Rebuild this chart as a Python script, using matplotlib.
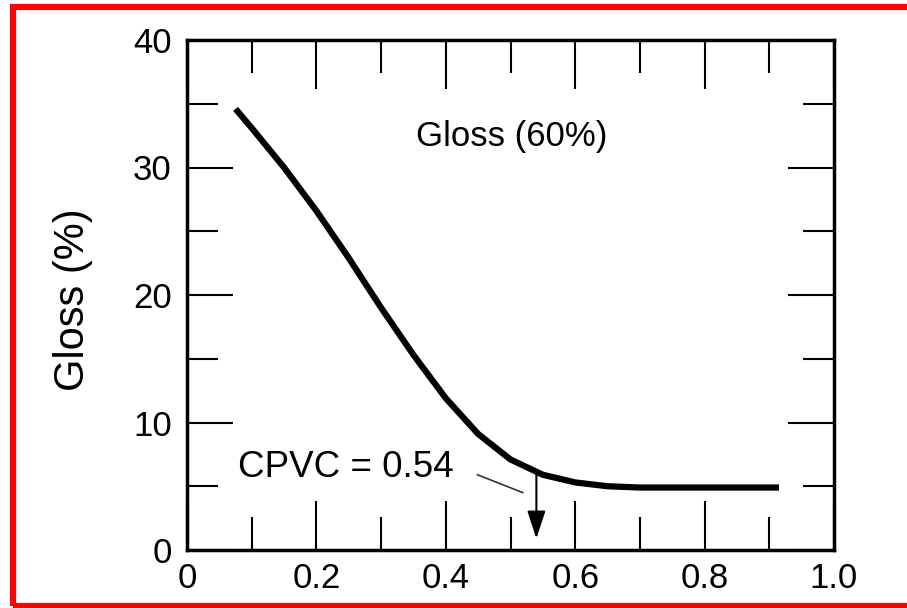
import matplotlib
matplotlib.use('Agg')
from matplotlib import pyplot as plt
from matplotlib.patches import Rectangle

# values
pvc = [0.075, 0.1, 0.15, 0.2, 0.25, 0.3, 0.35, 0.4, 0.45, 0.5, 0.55, 0.6, 0.65, 0.7, 0.8, 0.915]
gloss = [34.6, 33.1, 30.0, 26.6, 22.9, 19.0, 15.3, 11.9, 9.1, 7.1, 5.9, 5.3, 5.0, 4.9, 4.9, 4.9]
cpvc = 0.54
x_ticks = [0, 0.2, 0.4, 0.6, 0.8, 1.0]
x_labels = ['0', '0.2', '0.4', '0.6', '0.8', '1.0']
y_ticks = [0, 10, 20, 30, 40]
y_labels = ['0', '10', '20', '30', '40']

plt.rcParams['font.family'] = ['Liberation Sans', 'DejaVu Sans']

fig = plt.figure(figsize=(9.07, 6.08), dpi=100)
ax = fig.add_axes([187 / 907, 1 - 550 / 608, 647 / 907, 510 / 608])

ax.plot(pvc, gloss, color='black', lw=4.5, solid_capstyle='butt')

ax.set_xlim(0, 1.0)
ax.set_ylim(0, 40)
ax.set_xticks(x_ticks)
ax.set_xticklabels(x_labels)
ax.set_yticks(y_ticks)
ax.set_yticklabels(y_labels)
ax.set_xticks([0.1, 0.3, 0.5, 0.7, 0.9], minor=True)
ax.set_yticks([5, 15, 25, 35], minor=True)

ax.tick_params(axis='both', which='both', direction='in', top=True, right=True,
               width=1.5, color='black', labelsize=25)
ax.tick_params(axis='x', which='major', length=35, pad=9)
ax.tick_params(axis='x', which='minor', length=24)
ax.tick_params(axis='y', which='major', length=33, pad=11)
ax.tick_params(axis='y', which='minor', length=22)

for sp in ax.spines.values():
    sp.set_linewidth(2.5)

ax.set_ylabel('Gloss (%)', fontsize=30)
ax.yaxis.set_label_coords(-0.145, 0.49)

ax.text(0.502, 32.4, 'Gloss (60%)', fontsize=25, ha='center', va='center')
ax.text(0.079, 6.5, 'CPVC = 0.54', fontsize=26.5, ha='left', va='center')
ax.plot([0.449, 0.519], [5.9, 4.5], color='#333333', lw=1.2)
ax.annotate('', xy=(cpvc, 0.9), xytext=(cpvc, 6.0),
            arrowprops=dict(arrowstyle='-|>,head_length=0.85,head_width=0.28',
                            lw=1.5, color='black', shrinkA=0, shrinkB=0,
                            mutation_scale=20))

# red frame round the picture
fig.patches.append(Rectangle((13 / 907, 2 / 608), 1.2, 1 - 9 / 608,
                             transform=fig.transFigure, fill=False,
                             edgecolor='red', lw=4.5, clip_on=False))

fig.savefig('out.png', dpi=100)
